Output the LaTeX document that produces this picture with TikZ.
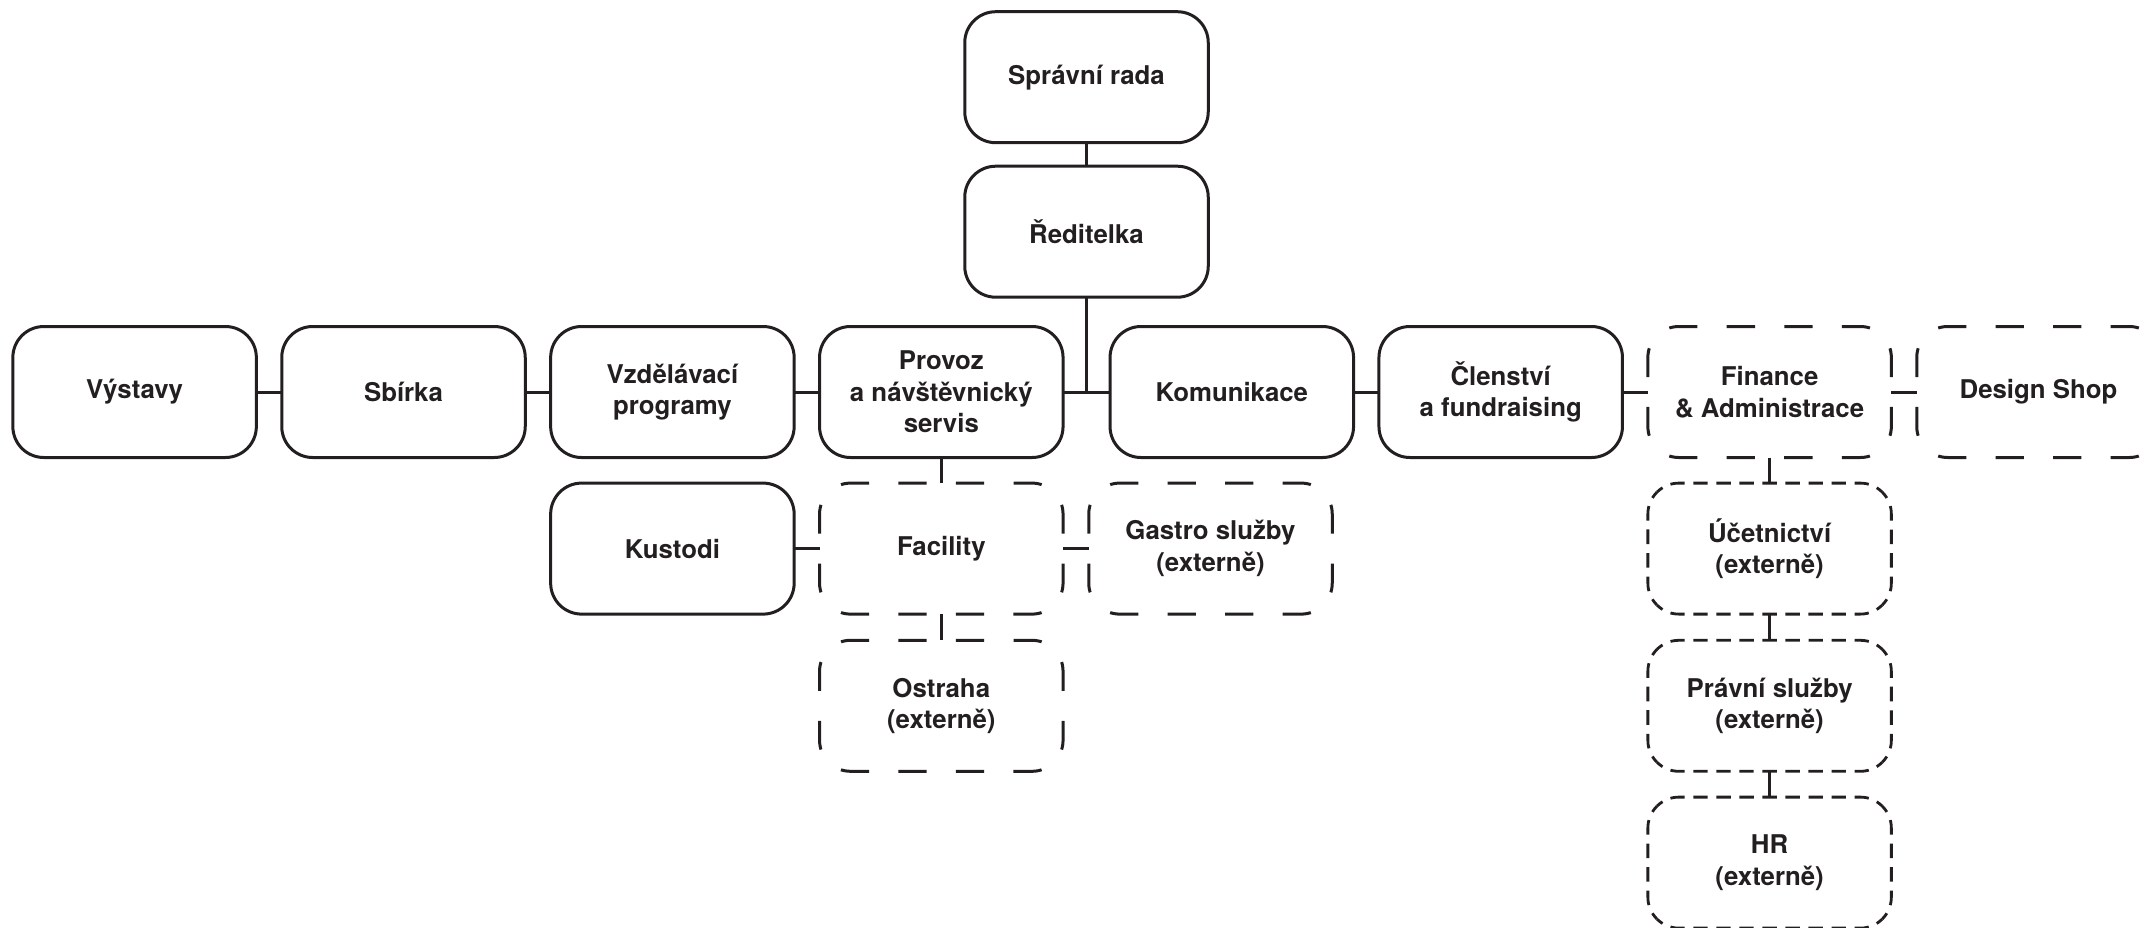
\documentclass[tikz,border=0pt]{standalone}
\usepackage{fontspec}
\setmainfont{TeX Gyre Heros}

\definecolor{ink}{RGB}{35,31,32}

\begin{document}
\begin{tikzpicture}[x=1pt, y=1pt,
    box/.style={draw=ink, line width=3pt, rounded corners=31pt,
        minimum width=243.5pt, minimum height=131pt, inner sep=0pt, outer sep=0pt,
        align=center, text=ink, font=\fontsize{25.8}{31.5}\selectfont\bfseries},
    ghost/.style={box, draw=none},
    link/.style={draw=ink, line width=3pt},
    % dashes fitted to each side, corner to corner
    longh/.style={link, dash pattern=on 28.29pt off 29.26pt, dash phase=42.92pt},
    longv/.style={link, dash pattern=on 28.92pt off 29.92pt, dash phase=43.88pt},
    shorth/.style={link, line width=2.8pt, dash pattern=on 14.32pt off 8.70pt, dash phase=7.16pt},
    shortv/.style={link, line width=2.8pt, dash pattern=on 14.65pt off 8.89pt, dash phase=7.32pt}]

    % Page
    \useasboundingbox (0,0) rectangle (2155,-927);
    \clip (0,0) rectangle (2155,-927);

    \def\dx{268.9}
    \def\xa{134.6}
    \def\xtop{1086.5}
    \def\ya{-392}
    \def\yb{-548.6}
    \def\yc{-705.8}
    \def\yd{-862.6}

    % Dashed outline round a node
    \def\dashedoutline#1#2{%
        \draw[#2h] ([shift={(9.08,-9.08)}]#1.north west) arc[start angle=135, end angle=90, radius=31]
            -- ([xshift=-31pt]#1.north east) arc[start angle=90, end angle=45, radius=31];
        \draw[#2v] ([shift={(-9.08,-9.08)}]#1.north east) arc[start angle=45, end angle=0, radius=31]
            -- ([yshift=31pt]#1.south east) arc[start angle=0, end angle=-45, radius=31];
        \draw[#2h] ([shift={(-9.08,9.08)}]#1.south east) arc[start angle=-45, end angle=-90, radius=31]
            -- ([xshift=31pt]#1.south west) arc[start angle=-90, end angle=-135, radius=31];
        \draw[#2v] ([shift={(9.08,9.08)}]#1.south west) arc[start angle=-135, end angle=-180, radius=31]
            -- ([yshift=-31pt]#1.north west) arc[start angle=180, end angle=135, radius=31];
    }

    % Top
    \node[box] (spravni) at (\xtop, -77.2) {Správní rada};
    \node[box] (reditelka) at (\xtop, -231.7) {Ředitelka};

    % Main row
    \node[box] (vystavy) at (\xa, \ya) {Výstavy};
    \node[box] (sbirka) at (\xa+\dx, \ya) {Sbírka};
    \node[box] (vzdelavani) at (\xa+2*\dx, \ya) {Vzdělávací\\programy};
    \node[box] (provoz) at (\xa+3*\dx, \ya) {Provoz\\a návštěvnický\\servis};
    \node[box] (komunikace) at (\xa+3*\dx+290.5, \ya) {Komunikace};
    \node[box] (clenstvi) at (\xa+4*\dx+290.5, \ya) {Členství\\a fundraising};
    \node[ghost] (finance) at (\xa+5*\dx+290.5, \ya) {Finance\\\& Administrace};
    \node[ghost] (design) at (\xa+6*\dx+290.5, \ya) {Design Shop};

    % Lower rows
    \node[box] (kustodi) at (\xa+2*\dx, \yb) {Kustodi};
    \node[ghost] (facility) at (\xa+3*\dx, \yb) {Facility};
    \node[ghost] (gastro) at (\xa+3*\dx+269.2, \yb) {Gastro služby\\(externě)};
    \node[ghost] (ostraha) at (\xa+3*\dx, \yc) {Ostraha\\(externě)};
    \node[ghost] (ucetnictvi) at (\xa+5*\dx+290.5, \yb) {Účetnictví\\(externě)};
    \node[ghost] (pravni) at (\xa+5*\dx+290.5, \yc) {Právní služby\\(externě)};
    \node[ghost] (hr) at (\xa+5*\dx+290.5, \yd) {HR\\(externě)};

    % Outlines
    \dashedoutline{facility}{long}
    \dashedoutline{gastro}{long}
    \dashedoutline{ostraha}{long}
    \dashedoutline{finance}{long}
    \dashedoutline{design}{long}
    \dashedoutline{ucetnictvi}{short}
    \dashedoutline{pravni}{short}
    \dashedoutline{hr}{short}

    % Connectors
    \draw[link] (spravni) -- (reditelka);
    \draw[link] (reditelka.south) -- (reditelka.south |- provoz.east);
    \foreach \a/\b in {vystavy/sbirka, sbirka/vzdelavani, vzdelavani/provoz, provoz/komunikace,
        komunikace/clenstvi, clenstvi/finance, finance/design,
        provoz/facility, facility/ostraha, kustodi/facility, facility/gastro,
        finance/ucetnictvi, ucetnictvi/pravni, pravni/hr}
        \draw[link] (\a) -- (\b);

\end{tikzpicture}
\end{document}
